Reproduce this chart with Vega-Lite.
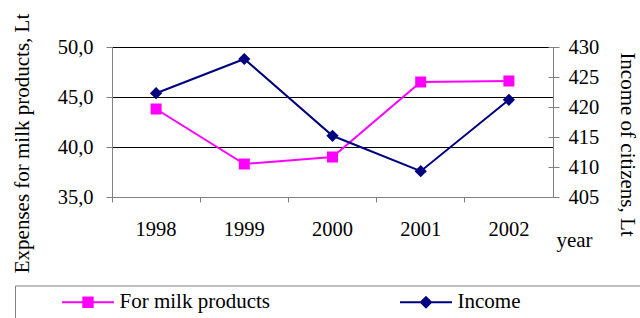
{
  "$schema": "https://vega.github.io/schema/vega-lite/v6.json",
  "width": 441,
  "height": 150,
  "autosize": {"type": "none"},
  "padding": {"left": 112, "top": 47, "right": 87, "bottom": 121},
  "background": "white",
  "config": {
    "view": {"stroke": null},
    "font": "Liberation Serif",
    "axis": {
      "labelFont": "Liberation Serif",
      "titleFont": "Liberation Serif",
      "labelColor": "black",
      "titleColor": "black",
      "labelFontSize": 20.5,
      "titleFontSize": 21,
      "titleFontWeight": "normal",
      "domainColor": "#808080",
      "tickColor": "#808080",
      "tickSize": 6
    },
    "legend": {"labelFont": "Liberation Serif", "titleFont": "Liberation Serif"}
  },
  "data": {
    "values": [
      {"year": "1998", "series": "For milk products", "value": 43.8},
      {"year": "1999", "series": "For milk products", "value": 38.3},
      {"year": "2000", "series": "For milk products", "value": 39.0},
      {"year": "2001", "series": "For milk products", "value": 46.5},
      {"year": "2002", "series": "For milk products", "value": 46.6},
      {"year": "1998", "series": "Income", "value": 422.3},
      {"year": "1999", "series": "Income", "value": 428.0},
      {"year": "2000", "series": "Income", "value": 415.2},
      {"year": "2001", "series": "Income", "value": 409.3},
      {"year": "2002", "series": "Income", "value": 421.2}
    ]
  },
  "encoding": {
    "x": {
      "field": "year",
      "type": "ordinal",
      "bandPosition": 0.5,
      "scale": {"type": "band", "paddingInner": 0, "paddingOuter": 0},
      "axis": {
        "title": "year",
        "labelAngle": 0,
        "labelFont": "Liberation Serif",
        "bandPosition": 0,
        "tickSize": 5,
        "labelPadding": 17,
        "grid": false,
        "titleX": 462,
        "titleY": 49,
        "titleAlign": "center",
        "titleBaseline": "alphabetic",
        "titleAnchor": null
      }
    },
    "color": {
      "field": "series",
      "type": "nominal",
      "scale": {"domain": ["For milk products", "Income"], "range": ["#FF00FF", "#000080"]},
      "legend": {
        "title": "MMMMMM",
        "titleOrient": "right",
        "titleOpacity": 0,
        "titleFontSize": 21,
        "titleFont": "Liberation Serif",
        "orient": "none",
        "legendX": -97,
        "legendY": 238.5,
        "direction": "horizontal",
        "strokeColor": "#808080",
        "padding": 6,
        "symbolSize": 144,
        "symbolOffset": 56.5,
        "labelOffset": 21,
        "columnPadding": 89,
        "labelFont": "Liberation Serif",
        "labelFontSize": 21,
        "labelColor": "black",
        "labelLimit": 400,
        "symbolType": {"expr": "datum.value === 'Income' ? 'M-4.33,0H4.33M0,-0.85L0.85,0L0,0.85L-0.85,0Z' : 'M-4.33,0H4.33M-0.78,-0.78H0.78V0.78H-0.78Z'"},
        "symbolFillColor": {"expr": "datum.value === 'Income' ? '#000080' : '#FF00FF'"},
        "symbolStrokeColor": {"expr": "datum.value === 'Income' ? '#000080' : '#FF00FF'"},
        "symbolStrokeWidth": 2,
        "symbolOpacity": 1
      }
    }
  },
  "layer": [
    {
      "transform": [{"filter": "datum.series === 'For milk products'"}],
      "encoding": {
        "y": {
          "field": "value",
          "type": "quantitative",
          "scale": {"domain": [35, 50], "nice": false, "zero": false},
          "axis": {
            "orient": "left",
            "values": [35, 40, 45, 50],
            "labelExpr": "replace(format(datum.value, '.1f'), '.', ',')",
            "labelFont": "Liberation Serif",
            "labelPadding": 13,
            "grid": true,
            "gridColor": "black",
            "gridOpacity": 1,
            "gridWidth": 1,
            "title": "Expenses for milk products, Lt",
            "titleAngle": -90,
            "titleBaseline": "top",
            "titleAlign": "center",
            "titleX": -101,
            "titleY": 96,
            "titleAnchor": null
          }
        }
      },
      "layer": [
        {"mark": {"type": "line", "strokeWidth": 2}},
        {"mark": {"type": "point", "shape": "square", "filled": true, "opacity": 1, "size": 121}}
      ]
    },
    {
      "transform": [{"filter": "datum.series === 'Income'"}],
      "encoding": {
        "y": {
          "field": "value",
          "type": "quantitative",
          "scale": {"domain": [405, 430], "nice": false, "zero": false},
          "axis": {
            "orient": "right",
            "values": [405, 410, 415, 420, 425, 430],
            "labelFont": "Liberation Serif",
            "labelPadding": 9,
            "grid": false,
            "title": "Income of citizens, Lt",
            "titleAngle": 90,
            "titleBaseline": "top",
            "titleAlign": "center",
            "titleX": 84,
            "titleY": 97,
            "titleAnchor": null,
            "encoding": {
              "ticks": {"x": {"value": -5}, "x2": {"value": 6}}
            }
          }
        }
      },
      "layer": [
        {"mark": {"type": "line", "strokeWidth": 2}},
        {"mark": {"type": "point", "shape": "diamond", "filled": true, "opacity": 1, "size": 150}}
      ]
    }
  ],
  "resolve": {"scale": {"y": "independent"}}
}
